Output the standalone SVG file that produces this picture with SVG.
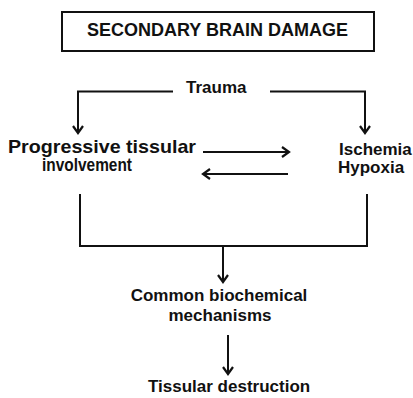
<svg xmlns="http://www.w3.org/2000/svg" width="413" height="398" viewBox="0 0 413 398">
<style>
text{font-family:"Liberation Sans",Arial,Helvetica,sans-serif;font-weight:bold;font-size:17px;fill:#111}
.ln{fill:none;stroke:#111;stroke-width:2}
</style>
<defs>
<marker id="ah" markerUnits="userSpaceOnUse" markerWidth="14" markerHeight="14" refX="0" refY="0" viewBox="-10 -7 12 14" orient="auto">
<path d="M-7,-5 L0,0 L-7,5" fill="none" stroke="#111" stroke-width="2.2"/>
</marker>
</defs>
<rect width="413" height="398" fill="#fff"/>
<g id="title">
<rect x="62" y="12" width="312" height="39" fill="none" stroke="#111" stroke-width="2"/>
<text x="87" y="36" style="font-size:18px">SECONDARY BRAIN DAMAGE</text>
</g>
<g id="trauma"><text x="186" y="93">Trauma</text></g>
<g id="progressive">
<text x="8" y="153" style="font-size:18.5px" textLength="188" lengthAdjust="spacingAndGlyphs">Progressive tissular</text>
<text x="42" y="171" style="font-size:17.5px" textLength="90" lengthAdjust="spacingAndGlyphs">involvement</text>
</g>
<g id="ischemia">
<text x="339" y="155">Ischemia</text>
<text x="338" y="173">Hypoxia</text>
</g>
<g id="common">
<text x="219" y="301" text-anchor="middle">Common biochemical</text>
<text x="220" y="321" text-anchor="middle">mechanisms</text>
</g>
<g id="destruction"><text x="148" y="392">Tissular destruction</text></g>
<g id="connectors">
<path class="ln" d="M173,91.5 H78 V133" marker-end="url(#ah)"/>
<path class="ln" d="M270,91.5 H365 V133" marker-end="url(#ah)"/>
<path class="ln" d="M203,152 H289" marker-end="url(#ah)"/>
<path class="ln" d="M288,174 H203" marker-end="url(#ah)"/>
<path class="ln" d="M80,194 V246 H367 V194"/>
<path class="ln" d="M223,246 V282" marker-end="url(#ah)"/>
<path class="ln" d="M228,335 V374" marker-end="url(#ah)"/>
</g>
</svg>
